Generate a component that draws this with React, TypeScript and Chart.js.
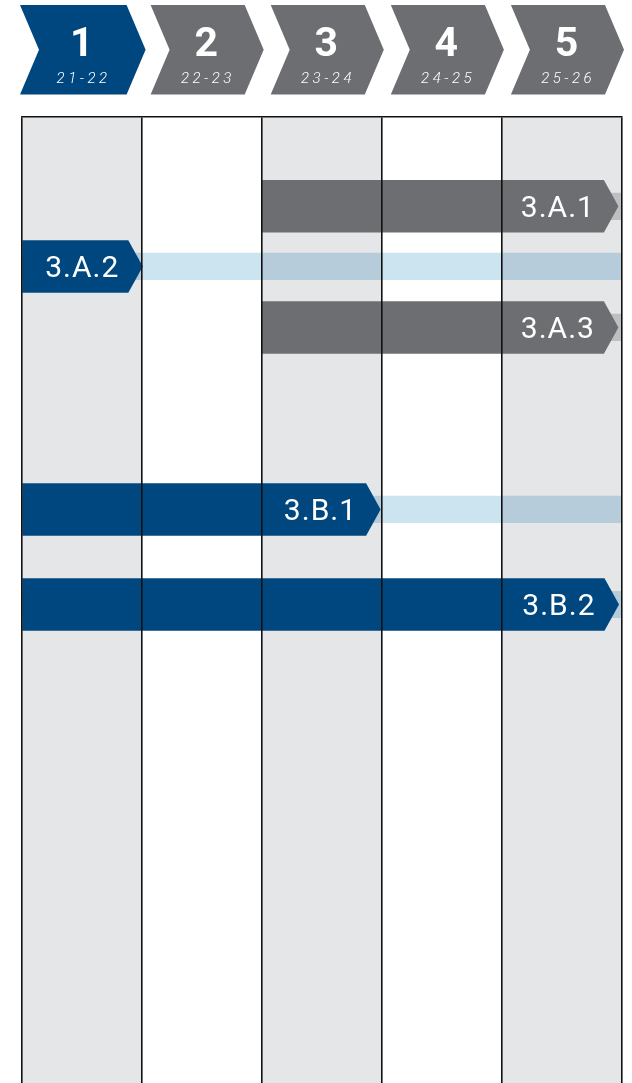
import React, { useEffect, useRef } from "react";
import { Chart, registerables } from "chart.js";

Chart.register(...registerables);

// Phases (header chevrons)
const phases = ["1", "2", "3", "4", "5"];
const years = ["21-22", "22-23", "23-24", "24-25", "25-26"];

// Tasks
const taskLabels = ["3.A.1", "3.A.2", "3.A.3", "3.B.1", "3.B.2"];
const taskRows = [2.96, 4.95, 6.97, 13.0, 16.15];
const taskStarts = [2, 0, 2, 0, 0];
const taskEnds = [4.97, 1.01, 4.97, 2.99, 4.975];
const taskGroups = ["gray", "blue", "gray", "blue", "blue"];
const tailStarts = [2, 0, 2, 0, 0];
const tailEnds = [5, 5, 5, 5, 5];

const BLUE = "#00477F";
const GRAY = "#6D6E71";
const COL_BG = "#E5E6E8";
const TAIL_BLUE = "#CCE3F0";
const TAIL_GRAY = "#D3D4D6";
const LINE = "#111111";
const TIP = 14.5;

// dataset 0 = tasks (drawn last / on top), dataset 1 = tails (drawn first)
const ganttPlugin = {
  id: "gantt",
  beforeDatasetsDraw(chart: any) {
    const { ctx, chartArea, scales } = chart;
    const x = scales.x;
    ctx.save();
    ctx.fillStyle = COL_BG;
    for (let i = 0; i < phases.length; i += 2) {
      const l = x.getPixelForValue(i);
      const r = x.getPixelForValue(i + 1);
      ctx.fillRect(l, chartArea.top, r - l, chartArea.bottom - chartArea.top);
    }
    ctx.restore();
  },
  beforeDatasetDraw(chart: any, args: any) {
    const ctx = chart.ctx;
    if (args.index === 1) {
      ctx.save();
      ctx.globalCompositeOperation = "multiply";
      return;
    }
    if (args.index === 0) {
      const meta = chart.getDatasetMeta(0);
      meta.data.forEach((el: any, i: number) => {
        const { x, y, base, height } = el.getProps(["x", "y", "base", "height"], true);
        const top = y - height / 2;
        const bottom = y + height / 2;
        ctx.save();
        ctx.globalCompositeOperation = "source-over";
        ctx.fillStyle = taskGroups[i] === "blue" ? BLUE : GRAY;
        ctx.beginPath();
        ctx.moveTo(base, top);
        ctx.lineTo(x - TIP, top);
        ctx.lineTo(x, y);
        ctx.lineTo(x - TIP, bottom);
        ctx.lineTo(base, bottom);
        ctx.closePath();
        ctx.fill();
        ctx.fillStyle = "#ffffff";
        ctx.font = "400 30px Roboto";
        (ctx as any).letterSpacing = "1px";
        ctx.textAlign = "right";
        ctx.textBaseline = "alphabetic";
        ctx.fillText(taskLabels[i], x - TIP - 9, y + 10.5);
        ctx.restore();
      });
      return false;
    }
  },
  afterDatasetDraw(chart: any, args: any) {
    if (args.index === 1) chart.ctx.restore();
  },
  afterDraw(chart: any) {
    const { ctx, scales } = chart;
    const x = scales.x;
    const top = 5;
    const bottom = 94.5;
    const mid = (top + bottom) / 2;
    const depth = 19;
    phases.forEach((p, i) => {
      const colL = x.getPixelForValue(i);
      const colR = x.getPixelForValue(i + 1);
      const L = colL + (i === 0 ? -1.5 : 9);
      const T = colR + (i === 0 ? 4 : 2);
      ctx.save();
      ctx.fillStyle = i === 0 ? BLUE : GRAY;
      ctx.beginPath();
      ctx.moveTo(L, top);
      ctx.lineTo(T - depth, top);
      ctx.lineTo(T, mid);
      ctx.lineTo(T - depth, bottom);
      ctx.lineTo(L, bottom);
      ctx.lineTo(L + depth, mid);
      ctx.closePath();
      ctx.fill();
      const cx = (L + T) / 2 - 1;
      ctx.fillStyle = "#ffffff";
      ctx.textAlign = "center";
      ctx.textBaseline = "alphabetic";
      ctx.font = "bold 41px Roboto";
      (ctx as any).letterSpacing = "0px";
      ctx.fillText(p, cx, 56);
      ctx.font = "italic 300 15px Roboto";
      (ctx as any).letterSpacing = "3.5px";
      ctx.fillText(years[i], cx + 1.75, 83);
      ctx.restore();
    });
  },
};

export default function App() {
  const ref = useRef<HTMLCanvasElement>(null);
  useEffect(() => {
    const tailData = taskRows.map((r, i) => ({ y: r, x: [tailStarts[i], tailEnds[i]] }));
    const mainData = taskRows.map((r, i) => ({ y: r, x: [taskStarts[i], taskEnds[i]] }));
    const chart = new Chart(ref.current as HTMLCanvasElement, {
      type: "bar",
      data: {
        datasets: [
          {
            label: "tasks",
            data: mainData as any,
            backgroundColor: taskGroups.map((g) => (g === "blue" ? BLUE : GRAY)),
            barThickness: 52.5,
            grouped: false,
            borderWidth: 0,
          } as any,
          {
            label: "tail",
            data: tailData as any,
            backgroundColor: taskGroups.map((g) => (g === "blue" ? TAIL_BLUE : TAIL_GRAY)),
            barThickness: 26.5,
            grouped: false,
            borderWidth: 0,
          } as any,
        ],
      },
      options: {
        indexAxis: "y",
        responsive: false,
        maintainAspectRatio: false,
        animation: false,
        layout: { padding: { top: 117, left: 21.5, right: 10, bottom: 0 } },
        plugins: { legend: { display: false }, tooltip: { enabled: false } },
        scales: {
          x: {
            type: "linear",
            position: "top",
            min: 0,
            max: 5,
            ticks: { display: false, stepSize: 1, z: 1 },
            grid: { color: LINE, lineWidth: 1.6, drawTicks: false, z: 1 },
            border: { display: true, color: LINE, width: 1.6, z: 1 },
          },
          y: {
            type: "linear",
            reverse: true,
            offset: false,
            min: 0,
            max: 32,
            display: false,
          },
        },
      } as any,
      plugins: [ganttPlugin],
    });
    return () => chart.destroy();
  }, []);
  return (
    <div style={{ position: "absolute", left: 0, top: 0, width: 632, height: 1083, background: "#fff" }}>
      <canvas ref={ref} width={632} height={1083} style={{ display: "block" }} />
    </div>
  );
}
